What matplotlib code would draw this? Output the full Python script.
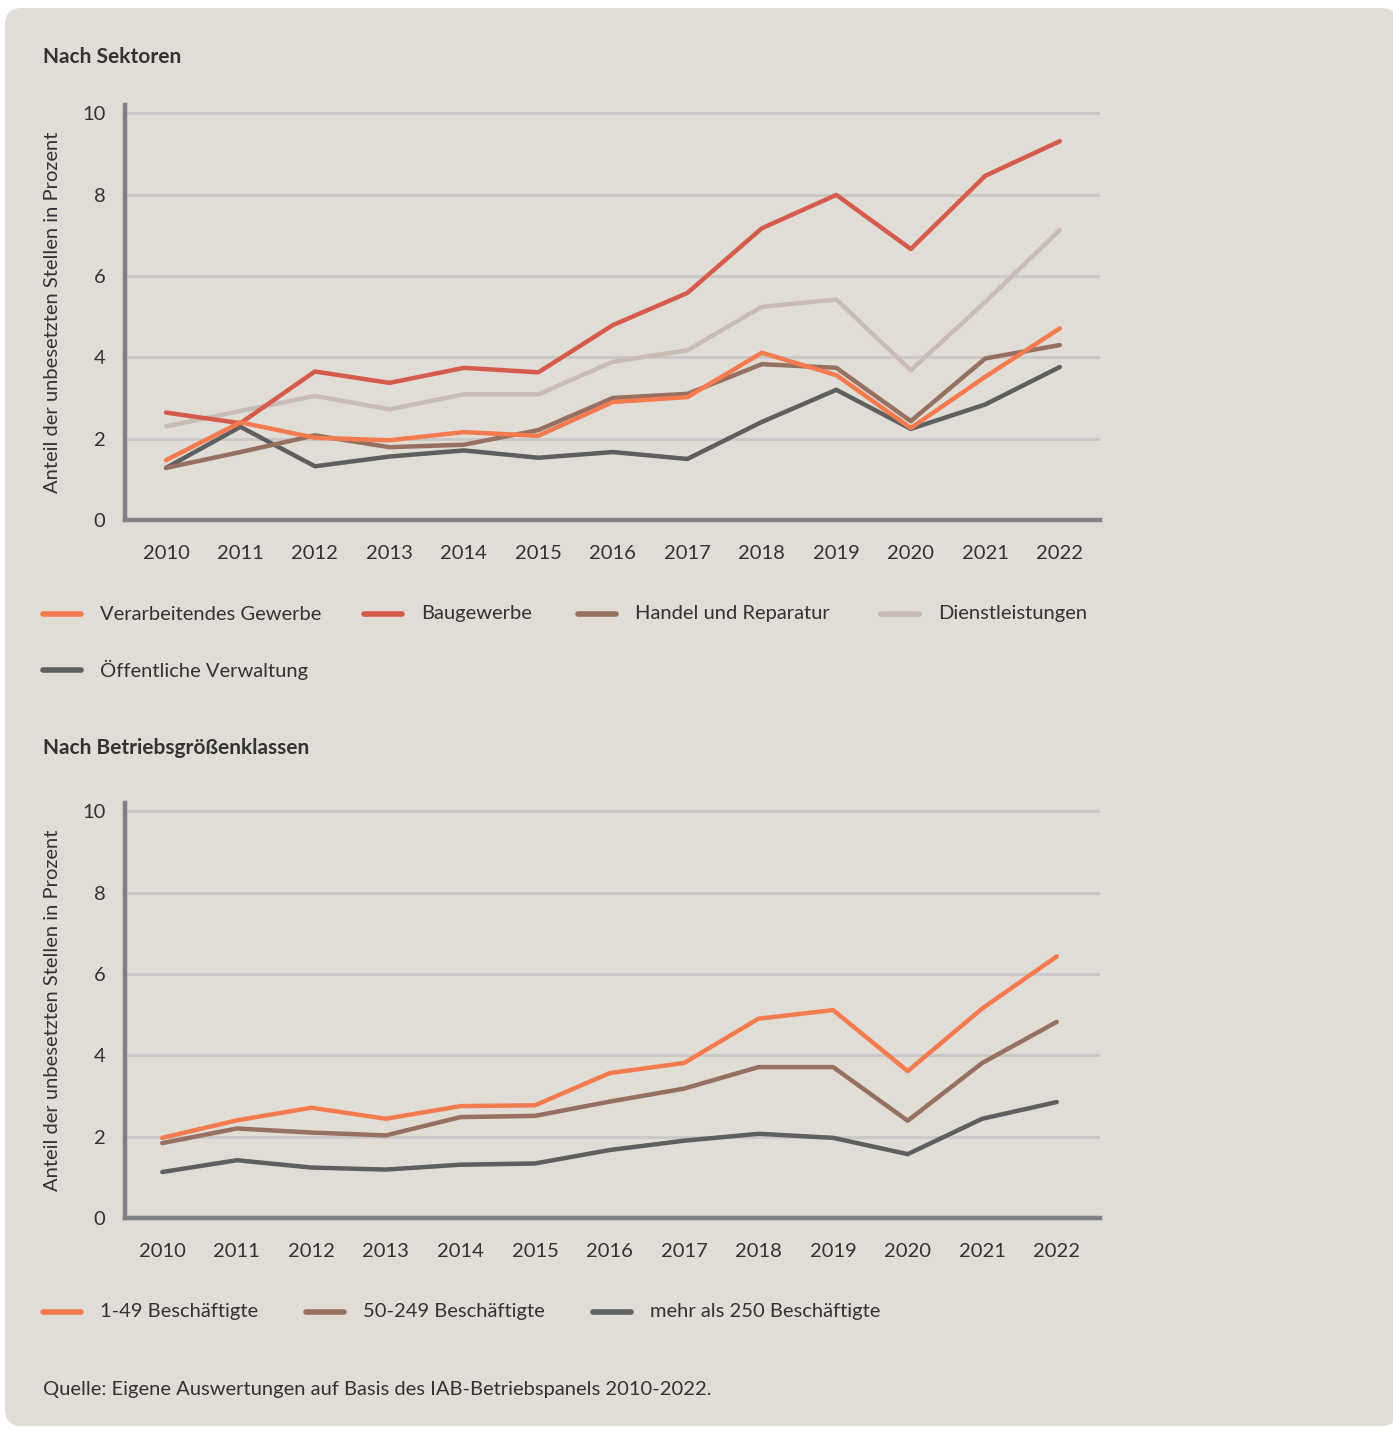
import matplotlib
matplotlib.use('Agg')
from matplotlib import pyplot as plt
from matplotlib.patches import FancyBboxPatch
from matplotlib.lines import Line2D

plt.rcParams['font.family'] = ['Lato', 'DejaVu Sans']

years = list(range(2010, 2023))

# Nach Sektoren
verarbeitendes = [1.47, 2.40, 2.02, 1.96, 2.16, 2.07, 2.90, 3.02, 4.11, 3.56, 2.26, 3.52, 4.71]
baugewerbe = [2.64, 2.38, 3.65, 3.37, 3.74, 3.63, 4.79, 5.58, 7.17, 7.99, 6.66, 8.46, 9.31]
handel = [1.28, 1.67, 2.08, 1.79, 1.85, 2.21, 3.00, 3.10, 3.83, 3.74, 2.43, 3.97, 4.30]
dienstleistungen = [2.30, 2.68, 3.05, 2.72, 3.09, 3.09, 3.89, 4.17, 5.24, 5.42, 3.68, 5.36, 7.13]
verwaltung = [1.28, 2.29, 1.32, 1.56, 1.71, 1.53, 1.67, 1.50, 2.41, 3.20, 2.24, 2.84, 3.76]

# Nach Betriebsgrößenklassen
klein = [1.97, 2.40, 2.71, 2.44, 2.75, 2.77, 3.56, 3.81, 4.90, 5.11, 3.61, 5.15, 6.43]
mittel = [1.84, 2.20, 2.10, 2.03, 2.48, 2.51, 2.86, 3.18, 3.71, 3.71, 2.39, 3.81, 4.82]
gross = [1.13, 1.42, 1.24, 1.19, 1.31, 1.34, 1.67, 1.90, 2.07, 1.97, 1.57, 2.44, 2.85]

sektor_labels = ['Verarbeitendes Gewerbe', 'Baugewerbe', 'Handel und Reparatur',
                 'Dienstleistungen', 'Öffentliche Verwaltung']
groessen_labels = ['1-49 Beschäftigte', '50-249 Beschäftigte', 'mehr als 250 Beschäftigte']

c_orange = '#F47A50'
c_red = '#D55B4D'
c_brown = '#967060'
c_light = '#C7BCB5'
c_dark = '#5E5F5F'
bg = '#E0DCD6'
txt = '#333333'

W, H = 1393, 1429
fig = plt.figure(figsize=(W / 100, H / 100), dpi=100)
fig.patch.set_facecolor('white')
panel = FancyBboxPatch((5 / W, 0.002), 1.0, 1 - 8 / H - 0.002,
                       boxstyle='round,pad=0,rounding_size=0.012',
                       transform=fig.transFigure, facecolor=bg, edgecolor='none', zorder=-10)
fig.patches.append(panel)


def px(x, y):
    return x / W, 1 - y / H


def make_axes(top, bottom, xlim):
    l, t = px(125, top)
    r, b = px(1100, bottom)
    ax = fig.add_axes([l, b, r - l, t - b])
    ax.set_facecolor('none')
    ax.set_xlim(*xlim)
    ax.set_ylim(0, 10.2)
    ax.set_yticks([0, 2, 4, 6, 8, 10])
    ax.set_xticks(years)
    ax.tick_params(length=0, labelsize=14.5, labelcolor=txt)
    ax.tick_params(axis='x', pad=18)
    ax.tick_params(axis='y', pad=14)
    for s in ['top', 'right']:
        ax.spines[s].set_visible(False)
    for s in ['left', 'bottom']:
        ax.spines[s].set_color('#808185')
        ax.spines[s].set_linewidth(3.2)
    ax.grid(axis='y', color='#C9C7C7', linewidth=2)
    ax.set_axisbelow(True)
    ax.set_ylabel('Anteil der unbesetzten Stellen in Prozent', fontsize=14.5, color=txt, labelpad=15)
    return ax


lw = 3.2

ax1 = make_axes(105, 520, (2009.45, 2022.54))
ax1.plot(years, dienstleistungen, color=c_light, lw=lw, solid_capstyle='round')
ax1.plot(years, verwaltung, color=c_dark, lw=lw, solid_capstyle='round')
ax1.plot(years, handel, color=c_brown, lw=lw, solid_capstyle='round')
ax1.plot(years, baugewerbe, color=c_red, lw=lw, solid_capstyle='round')
ax1.plot(years, verarbeitendes, color=c_orange, lw=lw, solid_capstyle='round')

ax2 = make_axes(803, 1218, (2009.5, 2022.58))
ax2.plot(years, gross, color=c_dark, lw=lw, solid_capstyle='round')
ax2.plot(years, mittel, color=c_brown, lw=lw, solid_capstyle='round')
ax2.plot(years, klein, color=c_orange, lw=lw, solid_capstyle='round')

# titles
fig.text(*px(43, 57), 'Nach Sektoren', fontsize=15, fontweight='bold', color=txt, va='center')
fig.text(*px(43, 748), 'Nach Betriebsgrößenklassen', fontsize=15, fontweight='bold', color=txt, va='center')


def legend_item(x, y, color, label):
    x0, y0 = px(x, y)
    x1, _ = px(x + 38, y)
    fig.add_artist(Line2D([x0, x1], [y0, y0], transform=fig.transFigure,
                          color=color, lw=4, solid_capstyle='round'))
    fig.text(*px(x + 57, y), label, fontsize=14.5, color=txt, va='center')


sektor_colors = [c_orange, c_red, c_brown, c_light, c_dark]
sektor_pos = [(43, 614), (364, 614), (578, 614), (881, 614), (43, 670)]
for (x, y), c, lab in zip(sektor_pos, sektor_colors, sektor_labels):
    legend_item(x, y, c, lab)

groessen_colors = [c_orange, c_brown, c_dark]
groessen_pos = [(43, 1312), (306, 1312), (593, 1312)]
for (x, y), c, lab in zip(groessen_pos, groessen_colors, groessen_labels):
    legend_item(x, y, c, lab)

fig.text(*px(43, 1390), 'Quelle: Eigene Auswertungen auf Basis des IAB-Betriebspanels 2010-2022.',
         fontsize=14.5, color=txt, va='center')

fig.savefig('out.png', dpi=100, facecolor='white')
